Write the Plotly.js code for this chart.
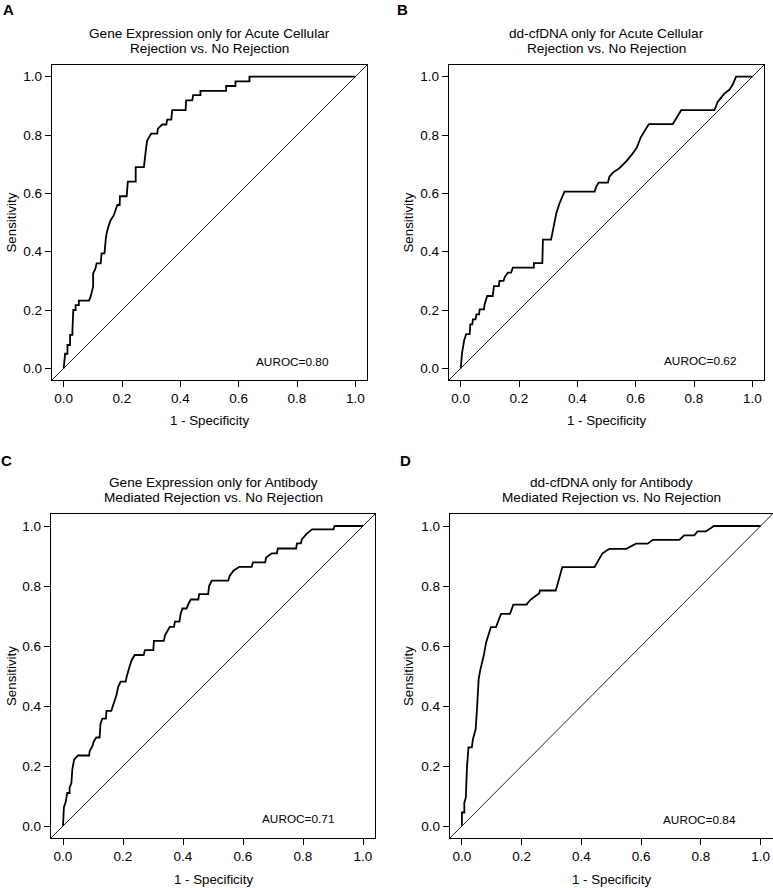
<!DOCTYPE html>
<html>
<head>
<meta charset="utf-8">
<script src="https://cdn.plot.ly/plotly-3.0.1.min.js"></script>
<style>
  html, body { margin: 0; padding: 0; background: #fff; }
  #roc { width: 773px; height: 888px; }
</style>
</head>
<body>
<div id="roc"></div>
<script>
// ROC curves: x = 1 - specificity, y = sensitivity
var fprA = [0, 0.003, 0.005, 0.013, 0.013, 0.022, 0.022, 0.03, 0.03, 0.033, 0.041, 0.041, 0.052, 0.052, 0.087, 0.092, 0.096, 0.101, 0.101, 0.109, 0.113, 0.127, 0.13, 0.14, 0.144, 0.147, 0.155, 0.161, 0.172, 0.179, 0.184, 0.192, 0.193, 0.216, 0.218, 0.22, 0.247, 0.247, 0.275, 0.278, 0.282, 0.286, 0.292, 0.3, 0.321, 0.323, 0.338, 0.352, 0.355, 0.369, 0.372, 0.418, 0.42, 0.441, 0.444, 0.469, 0.469, 0.557, 0.557, 0.589, 0.589, 0.637, 0.637, 1.0];
var tprA = [0, 0.03, 0.05, 0.05, 0.08, 0.08, 0.115, 0.115, 0.13, 0.2, 0.2, 0.217, 0.217, 0.232, 0.232, 0.245, 0.265, 0.28, 0.325, 0.342, 0.36, 0.36, 0.394, 0.394, 0.44, 0.462, 0.491, 0.508, 0.525, 0.542, 0.56, 0.56, 0.59, 0.59, 0.622, 0.64, 0.64, 0.69, 0.69, 0.73, 0.75, 0.78, 0.79, 0.805, 0.805, 0.822, 0.836, 0.836, 0.853, 0.853, 0.885, 0.885, 0.919, 0.919, 0.937, 0.937, 0.951, 0.951, 0.968, 0.968, 0.984, 0.984, 1.0, 1.0];

var fprB = [0, 0.005, 0.012, 0.019, 0.031, 0.033, 0.04, 0.042, 0.051, 0.054, 0.063, 0.065, 0.08, 0.082, 0.091, 0.11, 0.114, 0.131, 0.133, 0.147, 0.151, 0.162, 0.173, 0.179, 0.251, 0.251, 0.28, 0.282, 0.31, 0.316, 0.328, 0.339, 0.35, 0.356, 0.459, 0.465, 0.473, 0.505, 0.51, 0.522, 0.544, 0.567, 0.59, 0.604, 0.618, 0.636, 0.645, 0.727, 0.744, 0.756, 0.87, 0.881, 0.893, 0.904, 0.921, 0.933, 0.944, 1.0];
var tprB = [0, 0.055, 0.096, 0.117, 0.117, 0.151, 0.151, 0.168, 0.168, 0.185, 0.185, 0.202, 0.202, 0.219, 0.248, 0.248, 0.282, 0.282, 0.3, 0.3, 0.313, 0.328, 0.328, 0.345, 0.345, 0.361, 0.361, 0.441, 0.441, 0.476, 0.532, 0.566, 0.595, 0.606, 0.606, 0.623, 0.637, 0.637, 0.657, 0.671, 0.686, 0.709, 0.737, 0.757, 0.793, 0.822, 0.837, 0.837, 0.868, 0.885, 0.885, 0.913, 0.928, 0.942, 0.955, 0.973, 1.0, 1.0];

var fprC = [0, 0.003, 0.009, 0.014, 0.022, 0.022, 0.028, 0.031, 0.037, 0.05, 0.087, 0.089, 0.098, 0.102, 0.111, 0.122, 0.125, 0.131, 0.143, 0.145, 0.161, 0.165, 0.173, 0.178, 0.184, 0.192, 0.209, 0.212, 0.22, 0.228, 0.239, 0.269, 0.273, 0.301, 0.303, 0.336, 0.34, 0.349, 0.356, 0.37, 0.373, 0.388, 0.392, 0.398, 0.412, 0.418, 0.426, 0.451, 0.454, 0.484, 0.487, 0.496, 0.551, 0.555, 0.568, 0.588, 0.629, 0.633, 0.674, 0.677, 0.696, 0.713, 0.716, 0.777, 0.78, 0.793, 0.796, 0.811, 0.83, 0.902, 0.905, 1.0];
var tprC = [0, 0.063, 0.08, 0.11, 0.11, 0.128, 0.143, 0.188, 0.221, 0.235, 0.235, 0.25, 0.266, 0.281, 0.295, 0.295, 0.341, 0.358, 0.358, 0.384, 0.384, 0.397, 0.419, 0.436, 0.464, 0.481, 0.481, 0.497, 0.525, 0.551, 0.57, 0.57, 0.586, 0.586, 0.617, 0.617, 0.636, 0.651, 0.664, 0.664, 0.681, 0.681, 0.706, 0.725, 0.725, 0.74, 0.755, 0.755, 0.773, 0.773, 0.8, 0.818, 0.818, 0.833, 0.851, 0.864, 0.864, 0.879, 0.879, 0.895, 0.909, 0.909, 0.925, 0.925, 0.942, 0.942, 0.955, 0.973, 0.989, 0.989, 1.0, 1.0];

var fprD = [0, 0, 0.008, 0.008, 0.013, 0.017, 0.022, 0.033, 0.037, 0.041, 0.046, 0.05, 0.053, 0.056, 0.061, 0.067, 0.074, 0.081, 0.087, 0.092, 0.097, 0.114, 0.12, 0.124, 0.131, 0.161, 0.167, 0.172, 0.217, 0.222, 0.233, 0.244, 0.259, 0.261, 0.314, 0.319, 0.326, 0.331, 0.336, 0.444, 0.45, 0.459, 0.47, 0.481, 0.494, 0.55, 0.567, 0.583, 0.622, 0.639, 0.728, 0.744, 0.778, 0.789, 0.817, 0.833, 0.844, 1.0];
var tprD = [0, 0.045, 0.045, 0.078, 0.095, 0.2, 0.262, 0.262, 0.29, 0.306, 0.323, 0.384, 0.451, 0.49, 0.518, 0.54, 0.573, 0.612, 0.629, 0.646, 0.663, 0.663, 0.679, 0.693, 0.707, 0.707, 0.729, 0.738, 0.738, 0.746, 0.757, 0.765, 0.776, 0.785, 0.785, 0.802, 0.824, 0.846, 0.863, 0.863, 0.874, 0.891, 0.908, 0.916, 0.924, 0.924, 0.932, 0.941, 0.941, 0.954, 0.954, 0.969, 0.969, 0.982, 0.982, 0.993, 1.0, 1.0];

var aurocLabels = ['AUROC=0.80', 'AUROC=0.62', 'AUROC=0.71', 'AUROC=0.84'];
var panelLetters = ['A', 'B', 'C', 'D'];
var panelTitles = [
    ['Gene Expression only for Acute Cellular', 'Rejection vs. No Rejection'],
    ['dd-cfDNA only for Acute Cellular', 'Rejection vs. No Rejection'],
    ['Gene Expression only for Antibody', 'Mediated Rejection vs. No Rejection'],
    ['dd-cfDNA only for Antibody', 'Mediated Rejection vs. No Rejection']
];
var tickVals = [0, 0.2, 0.4, 0.6, 0.8, 1.0];
var chanceLine = [-0.04, 1.04];   // abline(0, 1)

var W = 773, H = 888;
var FONT = 'Liberation Sans, Arial, Helvetica, sans-serif';

// plot boxes in pixels: [left, top, right, bottom]
var boxes = [[52, 65, 367, 380], [449, 65, 764, 380], [51, 514, 375, 838], [450, 514, 772.5, 838]];
var titleY = [[33, 48], [33, 48], [482, 497], [482, 497]];
var letterPos = [[8, 10], [403, 10], [7, 460], [405, 460]];
var xTitleY = [420, 420, 879, 879];
var yTitleX = [11, 408, 11, 408];
var aurocPos = [[0.784, 0.022], [0.82, 0.024], [0.782, 0.022], [0.796, 0.02]];

var curves = [[fprA, tprA], [fprB, tprB], [fprC, tprC], [fprD, tprD]];

function px(x) { return x / W; }
function py(y) { return 1 - y / H; }

function axis(domain, anchor) {
    return {
        domain: domain,
        anchor: anchor,
        range: chanceLine,
        tickvals: tickVals,
        tickformat: '.1f',
        ticks: 'outside',
        ticklen: 6,
        tickwidth: 1,
        tickcolor: '#000',
        tickfont: { family: FONT, size: 13.5, color: '#000' },
        showline: true,
        mirror: true,
        linecolor: '#000',
        linewidth: 1.2,
        showgrid: false,
        zeroline: false,
        fixedrange: true
    };
}

var data = [];
var layout = {
    width: W,
    height: H,
    margin: { l: 0, r: 0, t: 0, b: 0 },
    paper_bgcolor: '#fff',
    plot_bgcolor: '#fff',
    showlegend: false,
    annotations: []
};

boxes.forEach(function (b, i) {
    var n = i === 0 ? '' : String(i + 1);
    var xa = 'x' + n, ya = 'y' + n;

    layout['xaxis' + n] = axis([px(b[0]), px(b[2])], ya);
    layout['yaxis' + n] = axis([py(b[3]), py(b[1])], xa);

    // chance diagonal
    data.push({
        x: chanceLine, y: chanceLine, xaxis: xa, yaxis: ya,
        type: 'scatter', mode: 'lines', hoverinfo: 'skip',
        line: { color: '#222', width: 1 }
    });
    // ROC curve
    data.push({
        x: curves[i][0], y: curves[i][1], xaxis: xa, yaxis: ya,
        type: 'scatter', mode: 'lines',
        line: { color: '#000', width: 1.8 }
    });

    var cx = px((b[0] + b[2]) / 2);
    var cy = py((b[1] + b[3]) / 2);

    panelTitles[i].forEach(function (t, k) {
        layout.annotations.push({
            text: t, xref: 'paper', yref: 'paper', x: cx, y: py(titleY[i][k]),
            xanchor: 'center', yanchor: 'middle', showarrow: false,
            font: { family: FONT, size: 13.6, color: '#000' }
        });
    });
    layout.annotations.push({
        text: '<b>' + panelLetters[i] + '</b>', xref: 'paper', yref: 'paper',
        x: px(letterPos[i][0]), y: py(letterPos[i][1]),
        xanchor: 'center', yanchor: 'middle', showarrow: false,
        font: { family: FONT, size: 15, color: '#000' }
    });
    layout.annotations.push({
        text: '1 - Specificity', xref: 'paper', yref: 'paper',
        x: cx, y: py(xTitleY[i]), xanchor: 'center', yanchor: 'middle', showarrow: false,
        font: { family: FONT, size: 13.3, color: '#000' }
    });
    layout.annotations.push({
        text: 'Sensitivity', xref: 'paper', yref: 'paper', textangle: -90,
        x: px(yTitleX[i]), y: cy, xanchor: 'center', yanchor: 'middle', showarrow: false,
        font: { family: FONT, size: 13.3, color: '#000' }
    });
    layout.annotations.push({
        text: aurocLabels[i], xref: xa, yref: ya,
        x: aurocPos[i][0], y: aurocPos[i][1], xanchor: 'center', yanchor: 'middle', showarrow: false,
        font: { family: FONT, size: 11.8, color: '#000' }
    });
});

Plotly.newPlot('roc', data, layout, { displayModeBar: false, staticPlot: true });
</script>
</body>
</html>
